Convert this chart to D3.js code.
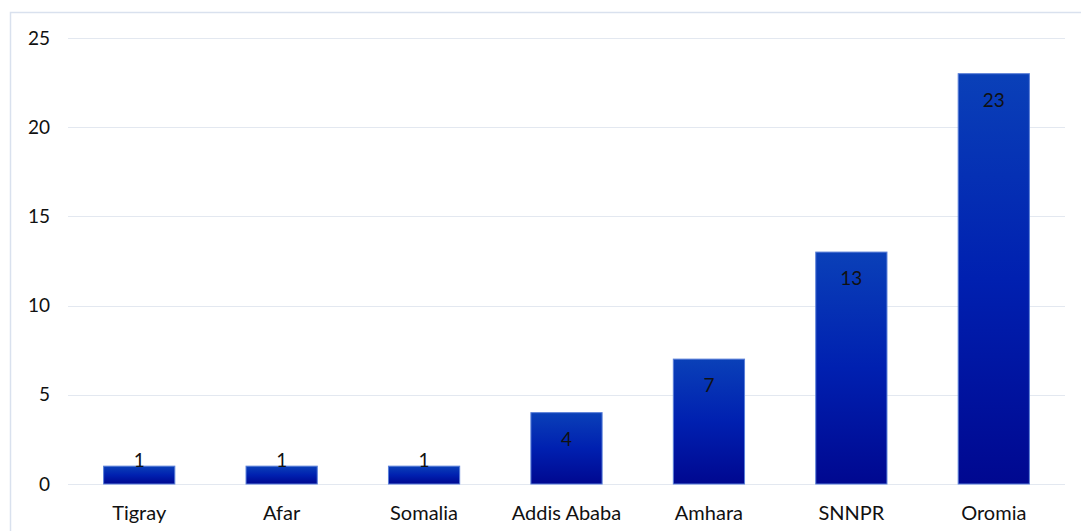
<!DOCTYPE html>
<html><head><meta charset="utf-8">
<script src="https://cdn.jsdelivr.net/npm/d3@7"></script>
<style>body{margin:0;background:#fff;}svg{display:block;font-family:Lato,"Open Sans",sans-serif;}</style>
</head><body><svg id="c" width="1081" height="531"></svg>
<script>
const categories = ["Tigray","Afar","Somalia","Addis Ababa","Amhara","SNNPR","Oromia"];
const values = [1,1,1,4,7,13,23];
const yTicks = [0,5,10,15,20,25];

const svg = d3.select("#c");
svg.append("rect").attr("x",10.5).attr("y",12.5).attr("width",1090).attr("height",540)
  .attr("fill","#fff").attr("stroke","#d9e1ee").attr("stroke-width",1.5);

const defs = svg.append("defs");
const g = defs.append("linearGradient").attr("id","gr").attr("x1",0).attr("y1",0).attr("x2",0).attr("y2",1);
g.append("stop").attr("offset","0%").attr("stop-color","#0a40b8");
g.append("stop").attr("offset","50%").attr("stop-color","#0020b0");
g.append("stop").attr("offset","100%").attr("stop-color","#000890");

const x = d3.scaleBand().domain(categories).range([68,1065]).paddingInner(0.5).paddingOuter(0.25);
const y = d3.scaleLinear().domain([0,25]).range([484,38]);

svg.append("g").selectAll("line").data(yTicks).join("line")
  .attr("x1",68).attr("x2",1065).attr("y1",d=>Math.round(y(d))+0.5).attr("y2",d=>Math.round(y(d))+0.5)
  .attr("stroke","#e3e8f0").attr("stroke-width",1);

svg.append("g").selectAll("text").data(yTicks).join("text")
  .attr("x",50).attr("y",d=>y(d)).attr("dy","0.35em").attr("text-anchor","end")
  .attr("font-size",19).attr("fill","#111").text(d=>d);

svg.append("g").selectAll("rect").data(values).join("rect")
  .attr("x",(d,i)=>x(categories[i])).attr("width",x.bandwidth())
  .attr("y",d=>y(d)).attr("height",d=>y(0)-y(d))
  .attr("fill","url(#gr)").attr("stroke","#5a7fd8").attr("stroke-width",1);

svg.append("g").selectAll("text").data(values).join("text")
  .attr("x",(d,i)=>x(categories[i])+x.bandwidth()/2).attr("y",d=>Math.min(y(d)+33, y(0)-17))
  .attr("text-anchor","middle").attr("font-size",19).attr("fill","#111").text(d=>d);

svg.append("g").selectAll("text").data(categories).join("text")
  .attr("x",d=>x(d)+x.bandwidth()/2).attr("y",520)
  .attr("text-anchor","middle").attr("font-size",20).attr("fill","#111").text(d=>d);
</script></body></html>
